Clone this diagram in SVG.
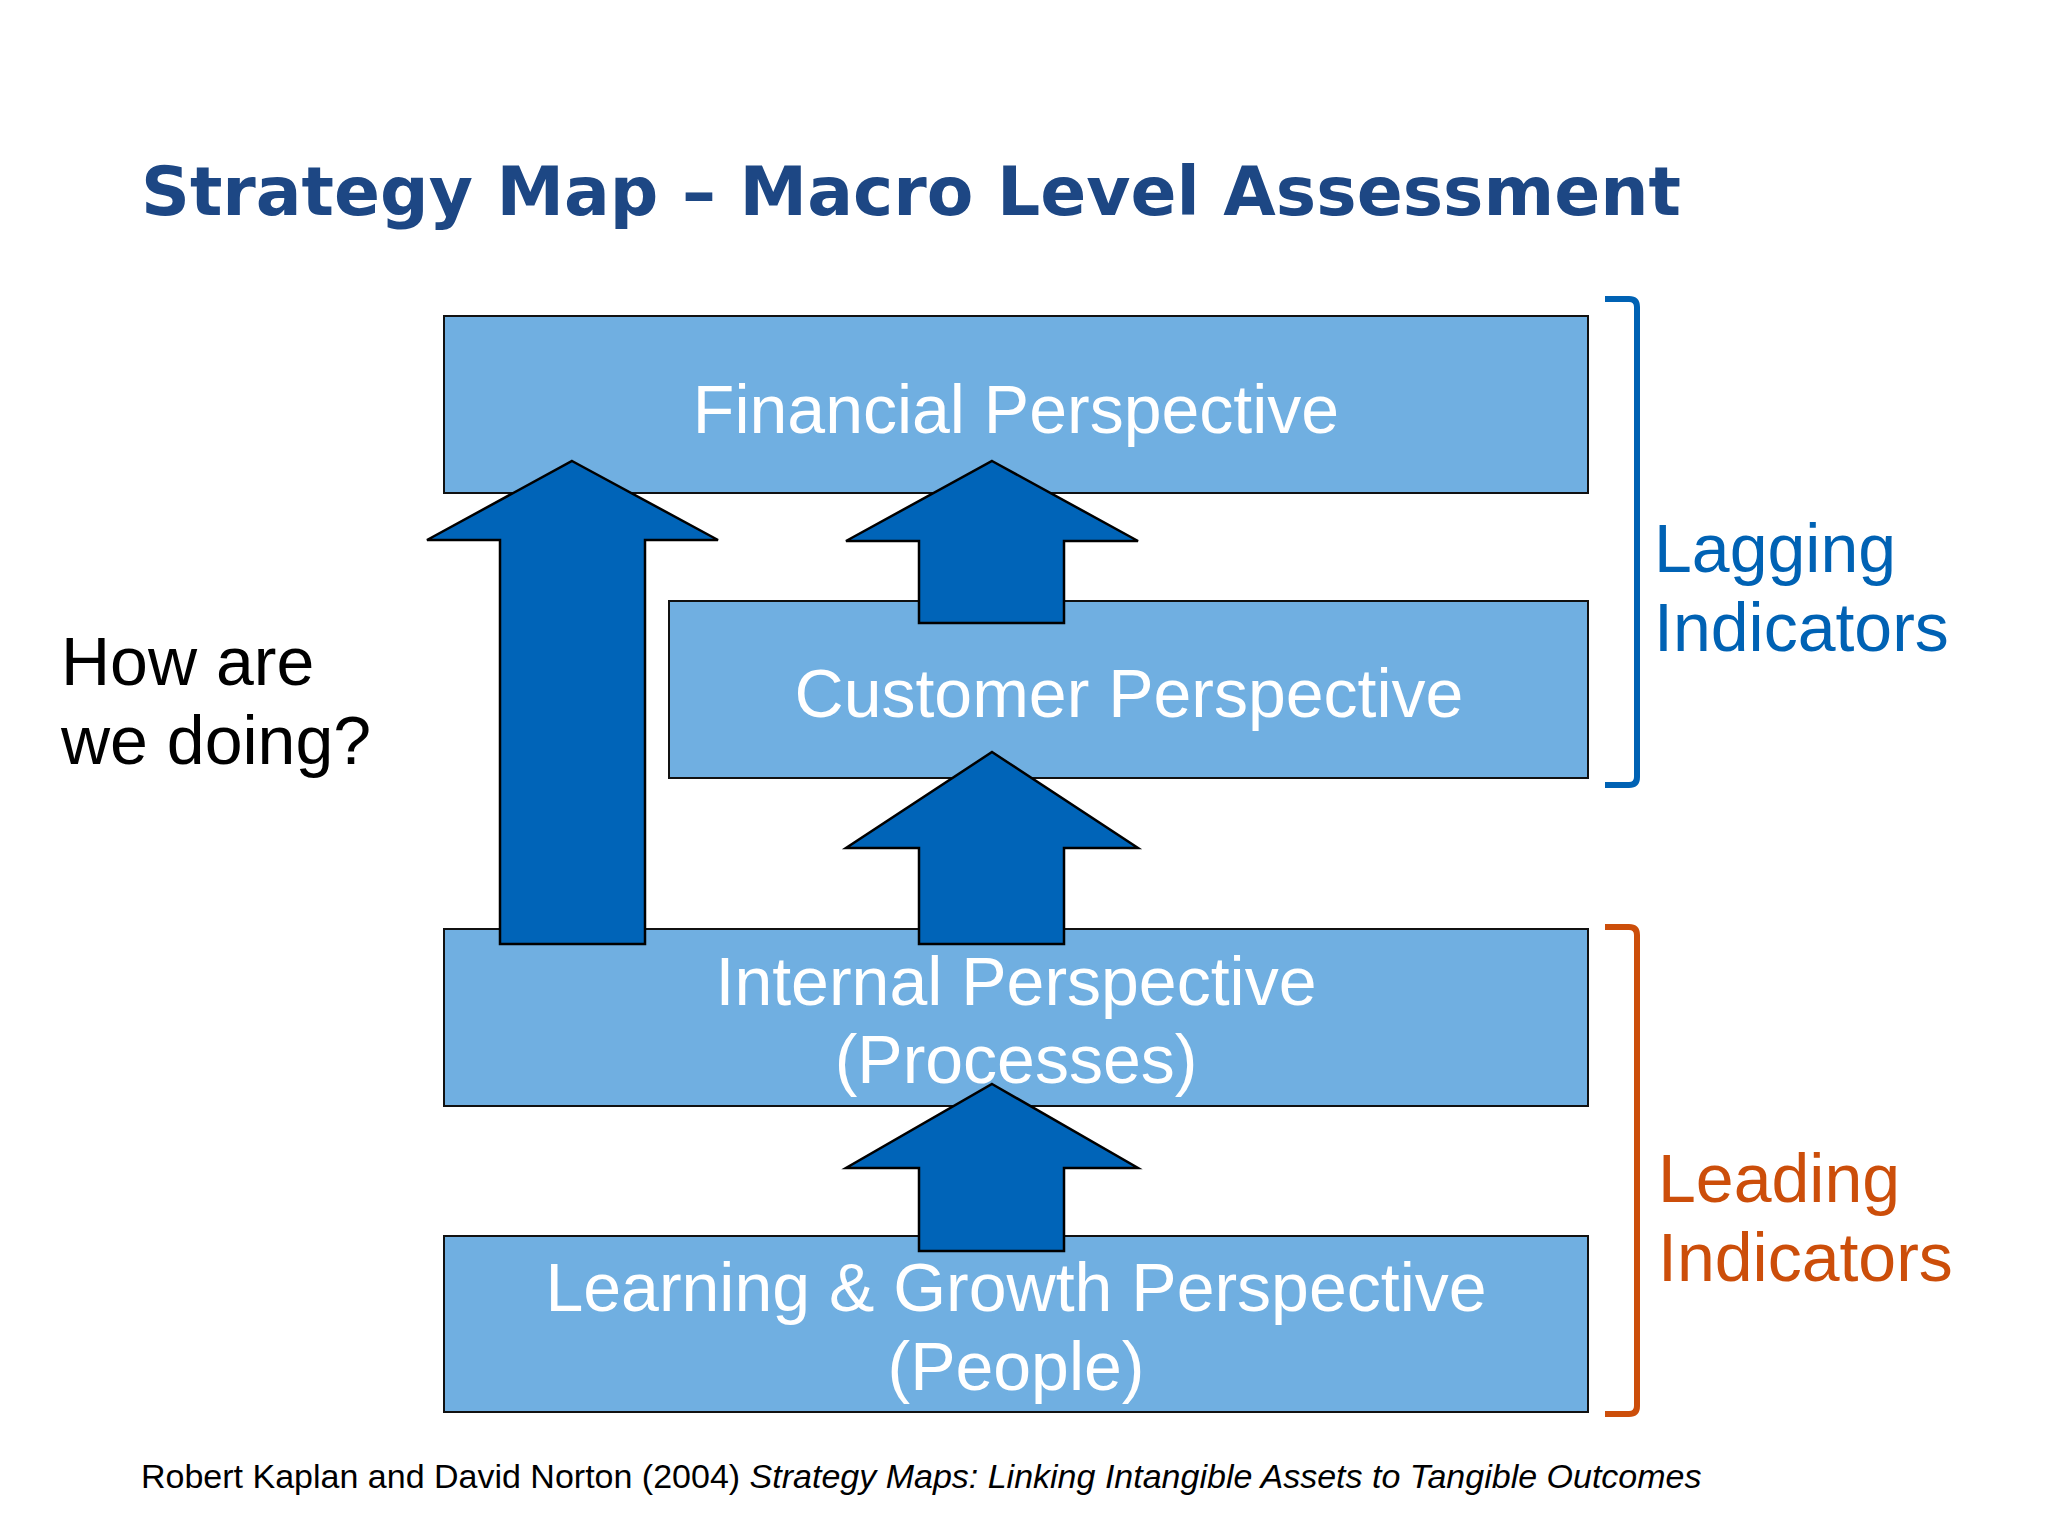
<svg xmlns="http://www.w3.org/2000/svg" width="2048" height="1536" viewBox="0 0 2048 1536">
<style>
.box{fill:#70AFE1;stroke:#111;stroke-width:2}
.lbl{font-family:"Liberation Sans",Arial,sans-serif;font-size:68px;fill:#fff;text-anchor:middle}
.arr{fill:#0064B8;stroke:#000;stroke-width:2.5;stroke-linejoin:miter}
.side{font-family:"Liberation Sans",Arial,sans-serif;font-size:68px}
.br{fill:none;stroke-width:6;stroke-linecap:butt}
</style>
<rect width="2048" height="1536" fill="#fff"/>
<text x="141" y="215" font-family="'DejaVu Sans',Verdana,sans-serif" font-weight="bold" font-size="68" fill="#1D4784" textLength="1540" lengthAdjust="spacingAndGlyphs">Strategy Map – Macro Level Assessment</text>
<g id="financial">
<rect class="box" x="444" y="316" width="1144" height="177"/>
<text class="lbl" x="1016" y="433">Financial Perspective</text>
</g>
<g id="customer">
<rect class="box" x="669" y="601" width="919" height="177"/>
<text class="lbl" x="1129" y="717">Customer Perspective</text>
</g>
<g id="internal">
<rect class="box" x="444" y="929" width="1144" height="177"/>
<text class="lbl" x="1016" y="1005">Internal Perspective</text>
<text class="lbl" x="1016" y="1083">(Processes)</text>
</g>
<g id="learning">
<rect class="box" x="444" y="1236" width="1144" height="176"/>
<text class="lbl" x="1016" y="1311">Learning &amp; Growth Perspective</text>
<text class="lbl" x="1016" y="1390">(People)</text>
</g>
<g id="connectors">
<polygon class="arr" points="572,461 718,540 645,540 645,944 500,944 500,540 427,540"/>
<polygon class="arr" points="992,461 1138,541 1064,541 1064,623 919,623 919,541 846,541"/>
<polygon class="arr" points="992,752 1138,848 1064,848 1064,944 919,944 919,848 846,848"/>
<polygon class="arr" points="992,1084 1138,1168 1064,1168 1064,1251 919,1251 919,1168 846,1168"/>
</g>
<g id="lagging">
<path class="br" stroke="#0062B4" d="M1605,299 L1629,299 Q1637,299 1637,307 L1637,777 Q1637,785 1629,785 L1605,785"/>
<text class="side" fill="#0062B4" x="1654" y="572">Lagging</text>
<text class="side" fill="#0062B4" x="1654" y="651">Indicators</text>
</g>
<g id="leading">
<path class="br" stroke="#CC4E0A" d="M1605,927 L1629,927 Q1637,927 1637,935 L1637,1406 Q1637,1414 1629,1414 L1605,1414"/>
<text class="side" fill="#CC4E0A" x="1658" y="1202">Leading</text>
<text class="side" fill="#CC4E0A" x="1658" y="1281">Indicators</text>
</g>
<g id="question">
<text class="side" fill="#000" x="61" y="685">How are</text>
<text class="side" fill="#000" x="61" y="764">we doing?</text>
</g>
<text x="141" y="1488" font-family="'Liberation Sans',Arial,sans-serif" font-size="34" fill="#000">Robert Kaplan and David Norton (2004) <tspan font-style="italic">Strategy Maps: Linking Intangible Assets to Tangible Outcomes</tspan></text>
</svg>
